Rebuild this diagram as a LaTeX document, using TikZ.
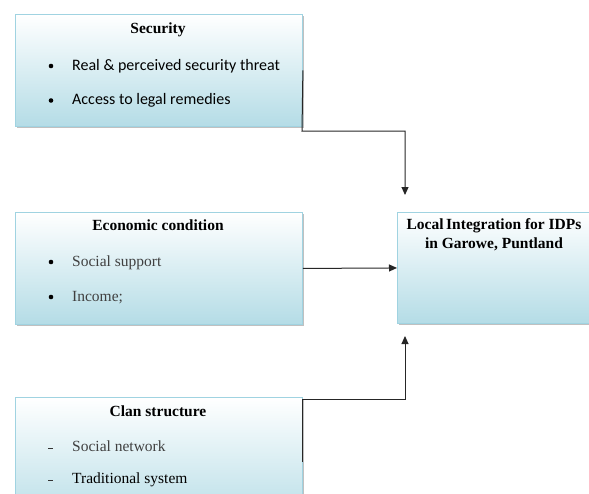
\documentclass[tikz,border=0pt]{standalone}
\usepackage{fontspec}
\setmainfont{Liberation Serif}
\newfontfamily\itemfont{Carlito}
\usetikzlibrary{arrows.meta,shadows}
\definecolor{boxedge}{RGB}{160,211,225}
\definecolor{boxlow}{RGB}{180,220,230}
\definecolor{softtext}{RGB}{64,64,64}
\tikzset{
  panel/.style={draw=boxedge, line width=0.9pt, top color=white, bottom color=boxlow,
    anchor=north west, inner sep=0pt,
    drop shadow={shadow xshift=1.5pt, shadow yshift=-1.5pt, opacity=0.45, fill=black!55}},
  heading/.style={font=\fontsize{15.5}{19}\selectfont\bfseries, align=center, inner sep=0pt},
  entry/.style={font=\fontsize{15.5}{19}\selectfont, anchor=base west, inner sep=0pt},
  bulletdot/.style={circle, fill=black, inner sep=0pt, minimum size=4.6pt},
  dashmark/.style={fill=black!80, inner sep=0pt, minimum width=4.5pt, minimum height=1.1pt},
  link/.style={line width=1pt, draw=black!85, -{Triangle[length=8pt,width=7pt]}}
}
\begin{document}
\begin{tikzpicture}[x=1pt,y=-1pt]
\useasboundingbox (0,0) rectangle (589,493);
\clip (0,0) rectangle (589,493);

% boxes
\node[panel, minimum width=287pt, minimum height=112pt] (sec) at (15,14) {};
\node[panel, minimum width=287pt, minimum height=112pt] (eco) at (15,212) {};
\node[panel, minimum width=287pt, minimum height=130pt] (clan) at (15,397) {};
\node[panel, minimum width=200pt, minimum height=111pt] (loc) at (397,212) {};

% Security
\node[heading, anchor=base] (secT) at (158,33.3) {Security};
\node[bulletdot] (secB1) at (51,66) {};
\node[entry, font=\fontsize{16}{19}\itemfont] (secI1) at (72,70) {Real \& perceived security threat};
\node[bulletdot] (secB2) at (51,100.5) {};
\node[entry, font=\fontsize{16}{19}\itemfont] (secI2) at (72,104.5) {Access to legal remedies};

% Economic condition
\node[heading, anchor=base] (ecoT) at (158,230.7) {Economic condition};
\node[bulletdot] (ecoB1) at (51,262) {};
\node[entry, text=softtext] (ecoI1) at (72,266.7) {Social support};
\node[bulletdot] (ecoB2) at (51,297) {};
\node[entry, text=softtext] (ecoI2) at (72,301.7) {Income;};

% Clan structure
\node[heading, anchor=base] (clanT) at (158,416) {Clan structure};
\node[dashmark] (clanD1) at (50.5,448.3) {};
\node[entry, text=softtext] (clanI1) at (72,451) {Social network};
\node[dashmark] (clanD2) at (50.5,480.5) {};
\node[entry] (clanI2) at (72,483) {Traditional system};

% outcome
\node[heading] (locT) at (494,235) {Local\,Integration for IDPs\\in Garowe, Puntland};

% connectors
\coordinate (secTurn) at (302,131);
\coordinate (secIn) at (405,195);
\draw[link] (sec.east) -- (secTurn) -| (secIn);

\draw[link] (eco.east) -- (loc.west);

\coordinate (clanOut) at (302,462);
\coordinate (clanTurn) at (302,399);
\coordinate (clanIn) at (405,336);
\draw[link] (clanOut) -- (clanTurn) -| (clanIn);
\end{tikzpicture}
\end{document}
